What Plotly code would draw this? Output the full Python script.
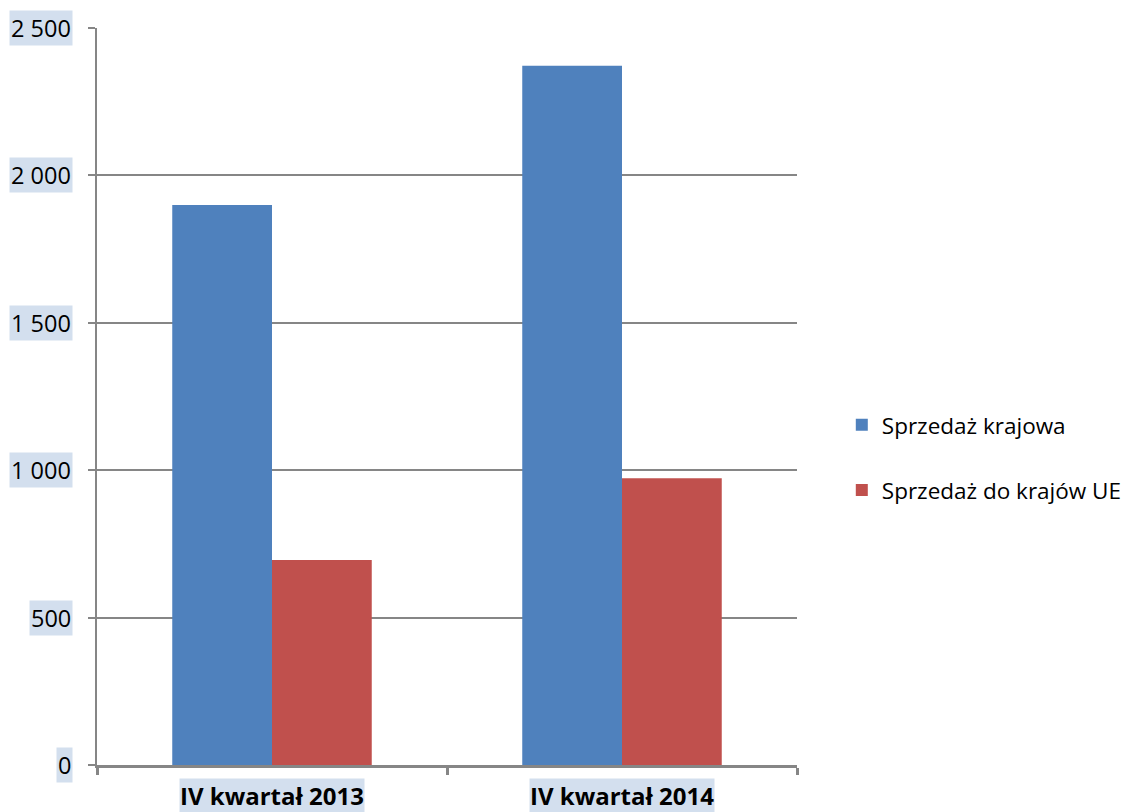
import plotly.graph_objects as go

categories = ["IV kwartał 2013", "IV kwartał 2014"]
series_names = ["Sprzedaż krajowa", "Sprzedaż do krajów UE"]
domestic = [1900, 2372]
eu = [695, 973]
y_ticks = [0, 500, 1000, 1500, 2000, 2500]
y_tick_labels = ["0", "500", "1 000", "1 500", "2 000", "2 500"]

colors = ["#4f81bd", "#c0504d"]
hl = "#d3dfee"
font_family = "Open Sans, Lato, sans-serif"

fig = go.Figure()
for name, vals, col in zip(series_names, [domestic, eu], colors):
    fig.add_trace(go.Bar(x=categories, y=vals, name=name, marker_color=col,
                         marker_line_width=0, legendgroup=name))

annotations = []
for v, t in zip(y_ticks, y_tick_labels):
    annotations.append(dict(x=0, xref="paper", y=v, yref="y", text=t, showarrow=False,
                            xanchor="right", yanchor="middle", xshift=-24,
                            bgcolor=hl, borderpad=1,
                            font=dict(family=font_family, size=23.5, color="#000")))
for c in categories:
    annotations.append(dict(x=c, xref="x", y=0, yref="paper", text="<b>" + c + "</b>",
                            showarrow=False, xanchor="center", yanchor="top", yshift=-13,
                            bgcolor=hl, borderpad=0,
                            font=dict(family=font_family, size=24, color="#000")))

fig.update_layout(
    width=1130, height=804,
    margin=dict(l=89, r=341, t=20, b=47, autoexpand=False),
    paper_bgcolor="white", plot_bgcolor="white",
    barmode="group", bargap=0.43, bargroupgap=0,
    showlegend=True,
    legend=dict(x=1.064, y=0.417, xanchor="left", yanchor="middle",
                font=dict(family=font_family, size=22.5, color="#000"),
                tracegroupgap=33, itemwidth=30, traceorder="grouped"),
    annotations=annotations,
    xaxis=dict(showticklabels=False, showline=True, linecolor="#868686", linewidth=3,
               ticks="outside", tickson="boundaries", ticklen=7, tickwidth=3,
               tickcolor="#868686", showgrid=False),
    yaxis=dict(range=[0, 2500], tickvals=y_ticks, showticklabels=False,
               showline=True, linecolor="#868686", linewidth=1.5,
               ticks="outside", ticklen=7, tickwidth=1.5, tickcolor="#868686",
               showgrid=True, gridcolor="#868686", gridwidth=1.5, zeroline=False),
)

fig.write_html("out.html")
